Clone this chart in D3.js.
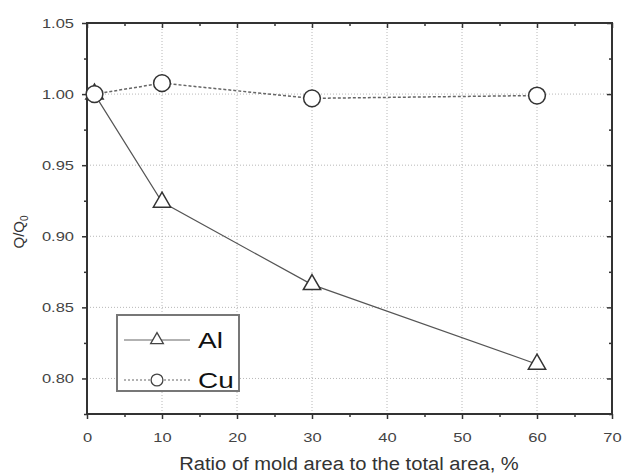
<!DOCTYPE html>
<html>
<head>
<meta charset="utf-8">
<title>Q/Q0 vs ratio of mold area</title>
<script src="https://cdn.jsdelivr.net/npm/d3@7"></script>
<style>
body { margin:0; background:#fff; }
text { font-family:"Liberation Sans", Arial, sans-serif; }
</style>
</head>
<body>
<div id="chart"></div>
<script>
// data
var ratio = [1, 10, 30, 60];
var alVals = [1.000, 0.924, 0.866, 0.810];
var cuVals = [1.000, 1.0077, 0.997, 0.999];
var xTicks = [0, 10, 20, 30, 40, 50, 60, 70];
var yTicks = [0.80, 0.85, 0.90, 0.95, 1.00, 1.05];

var width = 623, height = 474;
var m = {left: 87, right: 11, top: 23, bottom: 60};

var svg = d3.select("#chart").append("svg")
    .attr("width", width)
    .attr("height", height);

var x = d3.scaleLinear().domain([0, 70]).range([m.left, width - m.right]);
var y = d3.scaleLinear().domain([0.775, 1.05]).range([height - m.bottom, m.top]);

// the original figure is a bit wider than tall, so text glyphs look stretched
function stretch(sel, k) {
    sel.each(function() {
        var len = this.getComputedTextLength();
        d3.select(this).attr("textLength", len * k).attr("lengthAdjust", "spacingAndGlyphs");
    });
}

// grid
var grid = svg.append("g").attr("stroke", "#b8b8b8").attr("stroke-width", 1)
    .attr("stroke-dasharray", "1,2");
grid.selectAll(".gx").data(xTicks.slice(1, -1)).enter().append("line")
    .attr("x1", function(d) { return x(d); }).attr("x2", function(d) { return x(d); })
    .attr("y1", y(0.775)).attr("y2", y(1.05));
grid.selectAll(".gy").data(yTicks.slice(0, -1)).enter().append("line")
    .attr("y1", function(d) { return y(d); }).attr("y2", function(d) { return y(d); })
    .attr("x1", x(0)).attr("x2", x(70));

// axes
var minorX = d3.range(5, 70, 10);
var minorY = [0.775, 0.825, 0.875, 0.925, 0.975, 1.025];

function styleAxis(g) {
    g.select(".domain").remove();
    g.selectAll(".tick line").attr("stroke", "#333").attr("stroke-width", 1.5);
    g.selectAll(".tick text").attr("fill", "#444").attr("font-size", 13.5);
}

var xAxisG = svg.append("g").attr("transform", "translate(0," + y(0.775) + ")")
    .call(d3.axisBottom(x).tickValues(xTicks).tickSize(5).tickPadding(13).tickFormat(d3.format("d")))
    .call(styleAxis);
svg.append("g").attr("transform", "translate(0," + y(0.775) + ")")
    .call(d3.axisBottom(x).tickValues(minorX).tickSize(3).tickFormat(""))
    .call(styleAxis);
var yAxisG = svg.append("g").attr("transform", "translate(" + x(0) + ",0)")
    .call(d3.axisLeft(y).tickValues(yTicks).tickSize(5).tickPadding(8).tickFormat(d3.format(".2f")))
    .call(styleAxis);
svg.append("g").attr("transform", "translate(" + x(0) + ",0)")
    .call(d3.axisLeft(y).tickValues(minorY).tickSize(3).tickFormat(""))
    .call(styleAxis);
// mirrored ticks, pointing inward
svg.append("g").attr("transform", "translate(0," + y(1.05) + ")")
    .call(d3.axisBottom(x).tickValues(xTicks).tickSize(5).tickFormat(""))
    .call(styleAxis);
svg.append("g").attr("transform", "translate(0," + y(1.05) + ")")
    .call(d3.axisBottom(x).tickValues(minorX).tickSize(3).tickFormat(""))
    .call(styleAxis);
svg.append("g").attr("transform", "translate(" + x(70) + ",0)")
    .call(d3.axisLeft(y).tickValues(yTicks).tickSize(5).tickFormat(""))
    .call(styleAxis);
svg.append("g").attr("transform", "translate(" + x(70) + ",0)")
    .call(d3.axisLeft(y).tickValues(minorY).tickSize(3).tickFormat(""))
    .call(styleAxis);

stretch(xAxisG.selectAll(".tick text"), 1.22);
stretch(yAxisG.selectAll(".tick text"), 1.22);

// frame
svg.append("rect")
    .attr("x", x(0)).attr("y", y(1.05))
    .attr("width", x(70) - x(0)).attr("height", y(0.775) - y(1.05))
    .attr("fill", "none").attr("stroke", "#333").attr("stroke-width", 2);

// series
var triangle = d3.symbol().type(d3.symbolTriangle).size(130);
var circle = d3.symbol().type(d3.symbolCircle).size(220);

var lineGen = d3.line()
    .x(function(d) { return x(d[0]); })
    .y(function(d) { return y(d[1]); });

var alData = d3.zip(ratio, alVals);
var cuData = d3.zip(ratio, cuVals);

svg.append("path").datum(alData).attr("d", lineGen)
    .attr("fill", "none").attr("stroke", "#555").attr("stroke-width", 1.2);
svg.selectAll(".al").data(alData).enter().append("path")
    .attr("class", "al")
    .attr("d", triangle)
    .attr("transform", function(d) { return "translate(" + x(d[0]) + "," + y(d[1]) + ")"; })
    .attr("fill", "#fff").attr("stroke", "#333").attr("stroke-width", 1.5);

svg.append("path").datum(cuData).attr("d", lineGen)
    .attr("fill", "none").attr("stroke", "#666").attr("stroke-width", 1.5)
    .attr("stroke-dasharray", "3,2");
svg.selectAll(".cu").data(cuData).enter().append("path")
    .attr("class", "cu")
    .attr("d", circle)
    .attr("transform", function(d) { return "translate(" + x(d[0]) + "," + y(d[1]) + ")"; })
    .attr("fill", "#fff").attr("stroke", "#333").attr("stroke-width", 1.5);

// legend
var lg = svg.append("g").attr("transform", "translate(117,315)");
lg.append("rect").attr("width", 122).attr("height", 76)
    .attr("fill", "#fff").attr("stroke", "#777").attr("stroke-width", 2);
var legendItems = [
    {name: "Al", sym: d3.symbol().type(d3.symbolTriangle).size(70), dash: null},
    {name: "Cu", sym: d3.symbol().type(d3.symbolCircle).size(110), dash: "2,2"}
];
legendItems.forEach(function(it, i) {
    var cy = 25 + i * 40;
    lg.append("line").attr("x1", 7).attr("x2", 73).attr("y1", cy).attr("y2", cy)
        .attr("stroke", "#666").attr("stroke-width", 1.2)
        .attr("stroke-dasharray", it.dash);
    lg.append("path").attr("d", it.sym)
        .attr("transform", "translate(40," + cy + ")")
        .attr("fill", "#fff").attr("stroke", "#444").attr("stroke-width", 1.3);
    lg.append("text").attr("x", 81).attr("y", cy + 8)
        .attr("font-size", 22).attr("fill", "#111").text(it.name)
        .call(stretch, 1.27);
});

// axis titles
svg.append("text")
    .attr("x", 349).attr("y", 470)
    .attr("text-anchor", "middle").attr("font-size", 18).attr("fill", "#333")
    .text("Ratio of mold area to the total area, %")
    .call(stretch, 1.12);

var yl = svg.append("text")
    .attr("transform", "translate(24,232) rotate(-90)")
    .attr("text-anchor", "middle").attr("font-size", 15).attr("fill", "#333");
yl.append("tspan").text("Q/Q");
yl.append("tspan").attr("font-size", 10).attr("dy", 4).text("0");
</script>
</body>
</html>
